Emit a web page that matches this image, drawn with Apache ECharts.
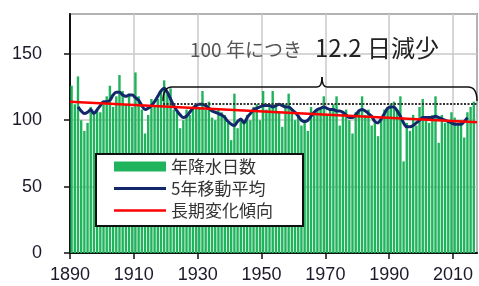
<!DOCTYPE html>
<html>
<head>
<meta charset="utf-8">
<script src="https://cdn.jsdelivr.net/npm/echarts@6/dist/echarts.min.js"></script>
<style>
  html, body { margin: 0; padding: 0; background: #fff; }
  #main { width: 479px; height: 286px; }
</style>
</head>
<body>
<div id="main"></div>
<script>
// 年降水日数 (1890-2016)
var firstYear = 1890;
var rainDays = [
  126, 112, 133, 100, 92, 98, 110, 104, 108, 106,
  112, 118, 126, 110, 118, 134, 122, 112, 120, 110,
  136, 118, 108, 90, 104, 116, 110, 116, 122, 130,
  120, 124, 108, 106, 94, 100, 108, 104, 110, 112,
  110, 122, 108, 114, 102, 100, 108, 106, 104, 98,
  85, 120, 94, 100, 98, 104, 100, 110, 112, 100,
  122, 108, 110, 122, 112, 106, 95, 112, 120, 108,
  100, 104, 96, 100, 92, 110, 104, 108, 110, 118,
  104, 108, 112, 118, 96, 106, 108, 100, 90, 106,
  108, 118, 104, 108, 96, 98, 88, 102, 108, 110,
  112, 114, 108, 118, 69, 98, 92, 104, 96, 110,
  116, 100, 98, 104, 118, 83, 104, 98, 100, 106,
  102, 98, 100, 87, 106, 110, 114
];

// 5年移動平均 (1892-2014)
var maFirstYear = 1892;
var movingAvg = [
  110, 107, 105, 106, 108, 105, 108, 111, 114, 114,
  115, 119, 121, 121, 119, 118, 119, 119, 117, 115,
  111, 108, 109, 111, 114, 118, 122, 124, 121, 116,
  111, 107, 104, 102, 103, 106, 109, 111, 112, 112,
  111, 109, 107, 106, 105, 104, 102, 99, 97, 96,
  99, 101, 98, 102, 105, 108, 109, 110, 111, 111,
  111, 110, 111, 112, 111, 110, 110, 108, 106, 103,
  100, 99, 100, 103, 106, 108, 109, 110, 109, 108,
  108, 107, 107, 106, 104, 102, 102, 104, 107, 108,
  107, 105, 103, 99, 98, 101, 105, 109, 110, 110,
  107, 103, 98, 95, 95, 96, 98, 100, 102, 102,
  102, 102, 103, 102, 101, 100, 99, 98, 97, 97,
  97, 99, 102
];

// 長期変化傾向 (100年につき12.2日減少)
var trendYears = [1890, 2017.5];
var trendValues = [114, 98.5];

var yTicks = [0, 50, 100, 150];
var xTickStart = 1890;
var xTickStep = 20;

function yearPairs(startYear, values) {
  var out = [];
  for (var i = 0; i < values.length; i++) {
    out.push([startYear + i + 0.5, values[i]]);
  }
  return out;
}

var braceStyle = { fill: null, stroke: '#111', lineWidth: 1.5 };

var myChart = echarts.init(document.getElementById('main'));
myChart.setOption({
  animation: false,
  grid: {
    left: 70,
    right: 2,
    top: 14,
    bottom: 33,
    show: true,
    borderColor: '#444',
    borderWidth: 1.5,
    backgroundColor: '#fff'
  },
  xAxis: {
    type: 'value',
    min: xTickStart,
    max: 2017.5,
    interval: xTickStep,
    axisLine: { onZero: false, lineStyle: { color: '#111', width: 2 } },
    axisTick: { show: true, length: 6, lineStyle: { color: '#111', width: 1.5 } },
    axisLabel: {
      color: '#1a1a2a',
      fontSize: 18,
      fontFamily: 'Liberation Sans',
      margin: 13,
      showMaxLabel: false,
      formatter: function (v) { return String(v); }
    },
    splitLine: { show: true, lineStyle: { color: '#c8c8c8', width: 1.5 } }
  },
  yAxis: {
    type: 'value',
    min: 0,
    max: 180,
    interval: 50,
    axisLine: { show: true, lineStyle: { color: '#111', width: 2 } },
    axisTick: { show: true, length: 6, lineStyle: { color: '#111', width: 1.5 } },
    axisLabel: {
      color: '#1a1a2a',
      fontSize: 18,
      fontFamily: 'Liberation Sans',
      margin: 28,
      showMaxLabel: false,
      formatter: function (v) { return yTicks.indexOf(v) >= 0 ? String(v) : ''; }
    },
    splitLine: { show: true, lineStyle: { color: '#c8c8c8', width: 1.5 } }
  },
  legend: {
    left: 96,
    top: 154,
    orient: 'vertical',
    backgroundColor: '#fff',
    borderColor: '#111',
    borderWidth: 2,
    borderRadius: 0,
    padding: [4, 30, 7, 18],
    itemGap: 5,
    itemWidth: 52,
    itemHeight: 10,
    textStyle: {
      color: '#333',
      fontSize: 17,
      fontFamily: 'Noto Sans CJK JP'
    },
    data: [
      { name: '年降水日数', icon: 'rect' },
      { name: '5年移動平均', icon: 'path://M0,0L52,0L52,3L0,3Z' },
      { name: '長期変化傾向', icon: 'path://M0,0L52,0L52,2.5L0,2.5Z' }
    ]
  },
  series: [{
    name: '年降水日数',
    type: 'bar',
    barWidth: 2.4,
    itemStyle: { color: '#1fb35c' },
    data: yearPairs(firstYear, rainDays),
    z: 2
  }, {
    name: '5年移動平均',
    type: 'line',
    symbol: 'none',
    smooth: 0.3,
    lineStyle: { color: '#13286a', width: 3 },
    itemStyle: { color: '#13286a' },
    data: yearPairs(maFirstYear, movingAvg),
    z: 4
  }, {
    name: '長期変化傾向',
    type: 'line',
    symbol: 'none',
    lineStyle: { color: '#ff0000', width: 2.5 },
    itemStyle: { color: '#ff0000' },
    data: trendYears.map(function (y, i) { return [y, trendValues[i]]; }),
    z: 5
  }],
  graphic: [{
    type: 'bezierCurve',
    shape: { x1: 163, y1: 101, cpx1: 163, cpy1: 87, x2: 172, y2: 87 },
    style: braceStyle, z: 10
  }, {
    type: 'line',
    shape: { x1: 172, y1: 87, x2: 317, y2: 87 },
    style: braceStyle, z: 10
  }, {
    type: 'bezierCurve',
    shape: { x1: 317, y1: 87, cpx1: 322, cpy1: 87, x2: 322, y2: 77 },
    style: braceStyle, z: 10
  }, {
    type: 'bezierCurve',
    shape: { x1: 322, y1: 77, cpx1: 322, cpy1: 87, x2: 327, y2: 87 },
    style: braceStyle, z: 10
  }, {
    type: 'line',
    shape: { x1: 327, y1: 87, x2: 468, y2: 87 },
    style: braceStyle, z: 10
  }, {
    type: 'bezierCurve',
    shape: { x1: 468, y1: 87, cpx1: 477, cpy1: 87, x2: 477, y2: 101 },
    style: braceStyle, z: 10
  }, {
    type: 'line',
    shape: { x1: 163, y1: 104, x2: 477, y2: 104 },
    style: { stroke: '#333', lineWidth: 2, lineDash: [2, 1.5] },
    z: 10
  }, {
    type: 'text',
    left: 190,
    top: 40,
    style: {
      text: '100 年につき',
      fill: '#555',
      fontSize: 19,
      fontFamily: 'Noto Sans CJK JP'
    },
    z: 10
  }, {
    type: 'text',
    left: 315,
    top: 36,
    style: {
      text: '12.2 日減少',
      fill: '#222',
      fontSize: 24,
      fontFamily: 'Noto Sans CJK JP'
    },
    z: 10
  }]
});
</script>
</body>
</html>
